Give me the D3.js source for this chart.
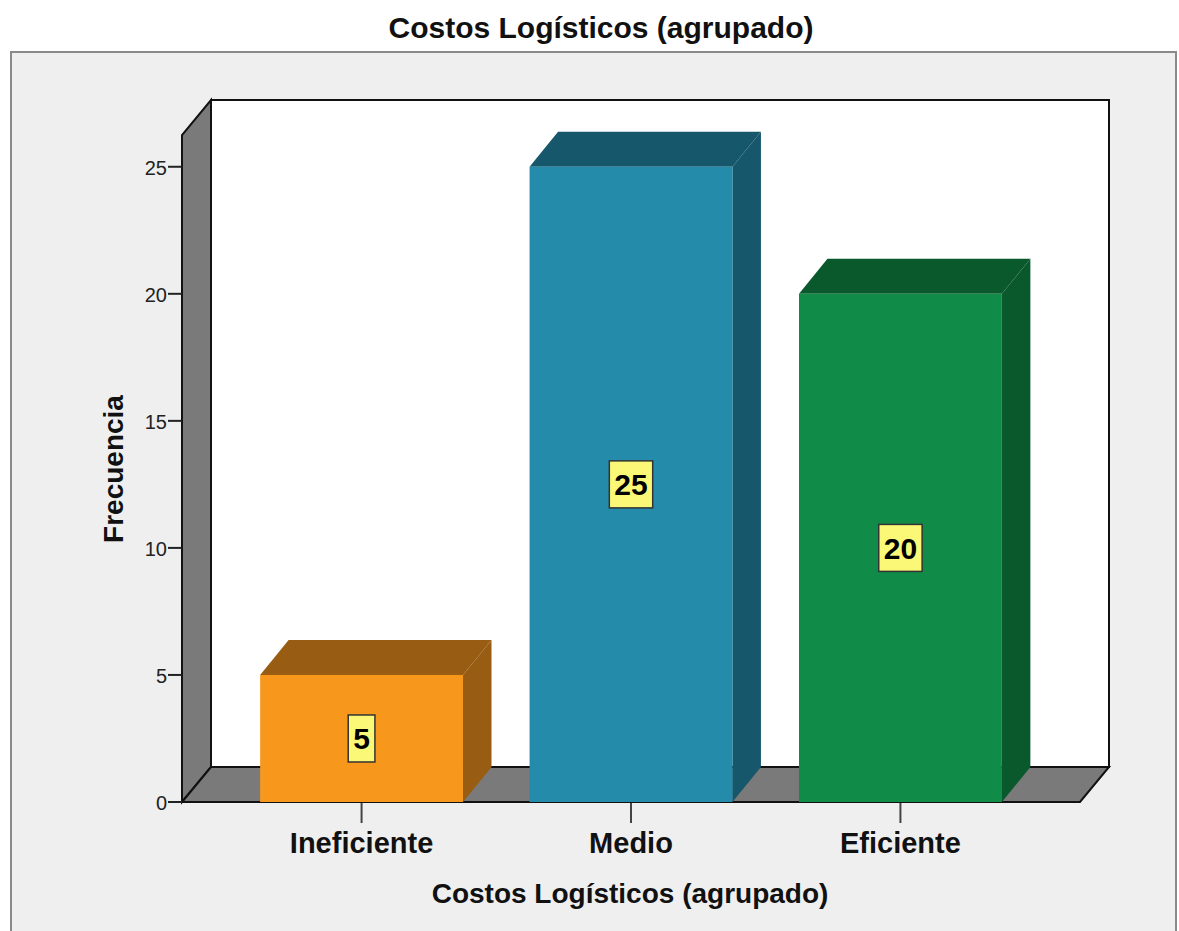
<!DOCTYPE html>
<html>
<head>
<meta charset="utf-8">
<script src="https://cdn.jsdelivr.net/npm/d3@7"></script>
<style>
  body { margin: 0; background: #ffffff; }
  svg text { font-family: "Liberation Sans", Arial, sans-serif; }
</style>
</head>
<body>
<div class="chart"></div>
<script>
let width = 1179,
    height = 931;

const categories = ["Ineficiente", "Medio", "Eficiente"];
const frecuencias = [5, 25, 20];
const yTicks = [0, 5, 10, 15, 20, 25];
const frontColors = ["#f7981d", "#248bab", "#108c48"];
const darkColors = ["#985c13", "#17576b", "#0a592d"];

// depth offset of the 3D box
const dx = 29, dy = 35;

const svg = d3.select(".chart").append("svg")
    .attr("width", width)
    .attr("height", height);

// outer frame
svg.append("rect")
    .attr("x", 11)
    .attr("y", 52)
    .attr("width", 1165)
    .attr("height", 900)
    .style("fill", "#efefef")
    .style("stroke", "#8a8a8a")
    .style("stroke-width", 2);

const x = d3.scaleBand()
    .domain(categories)
    .range([182, 1080])
    .paddingInner(0.247)
    .paddingOuter(0.29);

const y = d3.scaleLinear()
    .domain([0, 26.25])
    .range([802, 135]);

const x0 = x.range()[0], x1 = x.range()[1];
const yb = y(0), yt = y.domain()[1];

// back wall
svg.append("rect")
    .attr("x", x0 + dx)
    .attr("y", y(yt) - dy)
    .attr("width", x1 - x0)
    .attr("height", yb - y(yt))
    .style("fill", "#ffffff")
    .style("stroke", "#111")
    .style("stroke-width", 2);

// left wall
svg.append("polygon")
    .attr("points", [[x0, yb], [x0, y(yt)], [x0 + dx, y(yt) - dy], [x0 + dx, yb - dy]].join(" "))
    .style("fill", "#7a7a7a")
    .style("stroke", "#111")
    .style("stroke-width", 2);

// floor
svg.append("polygon")
    .attr("points", [[x0, yb], [x0 + dx, yb - dy], [x1 + dx, yb - dy], [x1, yb]].join(" "))
    .style("fill", "#7a7a7a")
    .style("stroke", "#111")
    .style("stroke-width", 2);

// bars
const bdx = 28.5;
categories.forEach((cat, i) => {
    let bx0 = x(cat), bx1 = x(cat) + x.bandwidth();
    let top = y(frecuencias[i]);
    let g = svg.append("g").attr("class", "bar");
    g.append("polygon")
        .attr("points", [[bx0, top], [bx0 + bdx, top - dy], [bx1 + bdx, top - dy], [bx1, top]].join(" "))
        .style("fill", darkColors[i]);
    g.append("polygon")
        .attr("points", [[bx1, top], [bx1 + bdx, top - dy], [bx1 + bdx, yb - dy], [bx1, yb]].join(" "))
        .style("fill", darkColors[i]);
    g.append("rect")
        .attr("x", bx0)
        .attr("y", top)
        .attr("width", x.bandwidth())
        .attr("height", yb - top)
        .style("fill", frontColors[i]);
});

// value labels
categories.forEach((cat, i) => {
    let cx = x(cat) + x.bandwidth() / 2;
    let cy = y(frecuencias[i] / 2);
    let t = svg.append("text")
        .attr("x", cx)
        .attr("y", cy + 11)
        .attr("text-anchor", "middle")
        .style("font-size", "30px")
        .style("font-weight", "bold")
        .style("fill", "#000")
        .text(frecuencias[i]);
    let w = t.node().getComputedTextLength() + 10;
    svg.insert("rect", "text:last-of-type")
        .attr("x", cx - w / 2)
        .attr("y", cy - 23.5)
        .attr("width", w)
        .attr("height", 47)
        .style("fill", "#fbf878")
        .style("stroke", "#333")
        .style("stroke-width", 1.5);
    t.raise();
});

// y axis ticks and labels
yTicks.forEach(v => {
    svg.append("line")
        .attr("x1", x0 - 14)
        .attr("x2", x0)
        .attr("y1", y(v))
        .attr("y2", y(v))
        .style("stroke", "#222")
        .style("stroke-width", 2);
    svg.append("text")
        .attr("x", x0 - 15)
        .attr("y", y(v) + 8)
        .attr("text-anchor", "end")
        .style("font-size", "20px")
        .style("fill", "#222")
        .text(v);
});

// x axis ticks and labels
categories.forEach(cat => {
    let cx = x(cat) + x.bandwidth() / 2;
    svg.append("line")
        .attr("x1", cx)
        .attr("x2", cx)
        .attr("y1", yb + 1)
        .attr("y2", yb + 21)
        .style("stroke", "#444")
        .style("stroke-width", 2);
    svg.append("text")
        .attr("x", cx)
        .attr("y", 853)
        .attr("text-anchor", "middle")
        .style("font-size", "29px")
        .style("font-weight", "bold")
        .style("fill", "#111")
        .text(cat);
});

// titles
svg.append("text")
    .attr("x", 601)
    .attr("y", 38)
    .attr("text-anchor", "middle")
    .style("font-size", "30px")
    .style("font-weight", "bold")
    .style("fill", "#111")
    .text("Costos Logísticos (agrupado)");

svg.append("text")
    .attr("x", 630)
    .attr("y", 903)
    .attr("text-anchor", "middle")
    .style("font-size", "28px")
    .style("font-weight", "bold")
    .style("fill", "#111")
    .text("Costos Logísticos (agrupado)");

svg.append("text")
    .attr("transform", "translate(123,469) rotate(-90)")
    .attr("text-anchor", "middle")
    .style("font-size", "28px")
    .style("font-weight", "bold")
    .style("fill", "#111")
    .text("Frecuencia");
</script>
</body>
</html>
